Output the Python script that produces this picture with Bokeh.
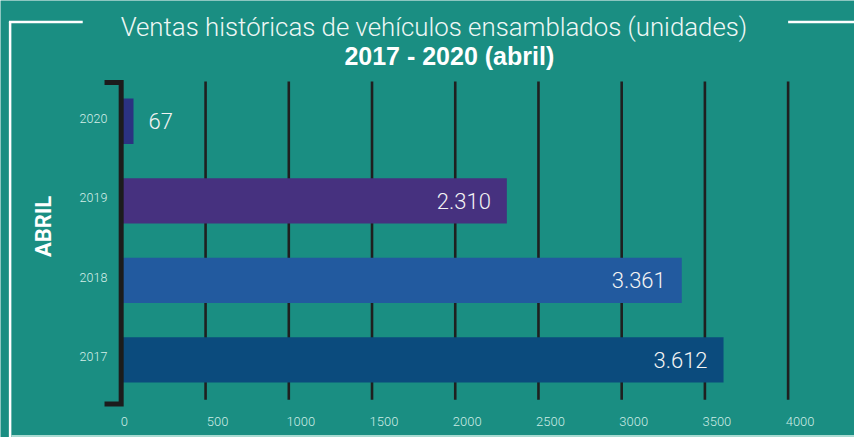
from bokeh.plotting import figure
from bokeh.models import Range1d, ColumnDataSource, Label
from bokeh.core.properties import value
from bokeh.embed import file_html
from bokeh.resources import INLINE

# ---------------- data ----------------
years = ["2017", "2018", "2019", "2020"]
sales = [3612, 3361, 2310, 67]
sales_labels = ["3.612", "3.361", "2.310", "67"]
bar_colors = ["#0b4b7d", "#225a9f", "#46317f", "#2b3281"]
x_ticks = [0, 500, 1000, 1500, 2000, 2500, 3000, 3500, 4000]
title_line1 = "Ventas históricas de vehículos ensamblados (unidades)"
title_line2 = "2017 - 2020 (abril)"
side_label = "ABRIL"

# ---------------- layout ----------------
W, H = 854, 437            # figure size (fits the 862x445 window with 8px margin)
REF_W, REF_H = 862, 445    # design space
PX_PER_UNIT = 84 / 500.0   # horizontal scale in design pixels
X0 = 123                   # design pixel of value 0
ROW = 81                   # design pixels per category row
TOP_ROW = 123              # design pixel of top category centre

n = len(years)


def px(x):
    return (x - X0) / PX_PER_UNIT


def py(y):
    return (n - 1) - (y - TOP_ROW) / ROW


BG = "#1a8e82"
LIGHT = "Roboto Light"

p = figure(width=W, height=H, output_backend="svg", toolbar_location=None,
           x_range=Range1d(px(0), px(REF_W)), y_range=Range1d(py(REF_H), py(0)),
           x_axis_location=None, y_axis_location=None, min_border=0,
           background_fill_color=BG, border_fill_color=BG)
p.outline_line_color = None
p.grid.visible = False

ypos = list(range(n))
src = ColumnDataSource(dict(y=ypos, v=sales, c=bar_colors, yr=years, lab=sales_labels))

# vertical grid lines
grid_x = [t for t in x_ticks if t > 0]
p.segment(x0=grid_x, x1=grid_x, y0=[-0.5] * len(grid_x), y1=[n - 0.5] * len(grid_x),
          line_color="#1f1f1f", line_width=2.6)

# bars
p.hbar(y="y", left=0, right="v", height=0.57, fill_color="c", line_color=None, source=src)

# bracket axis
bx = px(121.8)
p.line(x=[px(105), bx, bx, px(105)], y=[py(83.5), py(83.5), py(411), py(411)],
       line_color="#1c1c1c", line_width=5, line_join="miter")

# category labels
p.text(x=0, y="y", text="yr", source=src, text_align="right", text_baseline="middle",
       x_offset=-15, y_offset=-3, text_font=value(LIGHT), text_font_size="12.5px",
       text_color="#d6eee9")

# value labels
inside = dict(y=[], v=[], lab=[])
outside = dict(y=[], v=[], lab=[])
for yy, vv, ll in zip(ypos, sales, sales_labels):
    d = inside if vv > 500 else outside
    d["y"].append(yy); d["v"].append(vv); d["lab"].append(ll)
p.text(x="v", y="y", text="lab", source=ColumnDataSource(inside), text_align="right",
       text_baseline="middle", x_offset=-16, text_font=value(LIGHT),
       text_font_size="22px", text_color="#f3f3f3")
p.text(x="v", y="y", text="lab", source=ColumnDataSource(outside), text_align="left",
       text_baseline="middle", x_offset=15, text_font=value(LIGHT),
       text_font_size="22px", text_color="#f3f3f3")

# x tick labels
tick_off = [2 if t == 0 else 12 for t in x_ticks]
p.text(x=x_ticks, y=[py(429)] * len(x_ticks), text=[str(t) for t in x_ticks],
       x_offset=tick_off, text_align="center", text_baseline="middle",
       text_font=value(LIGHT), text_font_size="13px", text_color="#cdece5")

# frame decorations
p.line(x=[px(9.7), px(9.7)], y=[py(21.8), py(REF_H + 10)], line_color="white", line_width=2.5)
p.line(x=[px(8.5), px(83)], y=[py(21.8), py(21.8)], line_color="white", line_width=2.5)
p.line(x=[px(795), px(REF_W + 10)], y=[py(21.8), py(21.8)], line_color="white", line_width=2.5)
p.line(x=[px(11), px(REF_W + 10)], y=[py(443.5), py(443.5)], line_color="#a9dbd2", line_width=2)

# titles
p.add_layout(Label(x=px(437.5), y=py(27), text=title_line1, text_align="center",
                   text_baseline="alphabetic", text_font=LIGHT, text_font_size="25.8px",
                   text_color="#eef7f5"))
p.add_layout(Label(x=px(453), y=py(57), text=title_line2, text_align="center",
                   text_baseline="alphabetic", text_font="Liberation Sans",
                   text_font_style="bold", text_font_size="25px", text_color="white"))

# side label
p.add_layout(Label(x=px(43.5), y=py(230), text=side_label, angle=1.5708,
                   text_align="center", text_baseline="middle",
                   text_font="Roboto", text_font_style="bold",
                   text_font_size="22px", text_color="white"))

open("out.html", "w").write(file_html(p, INLINE))
